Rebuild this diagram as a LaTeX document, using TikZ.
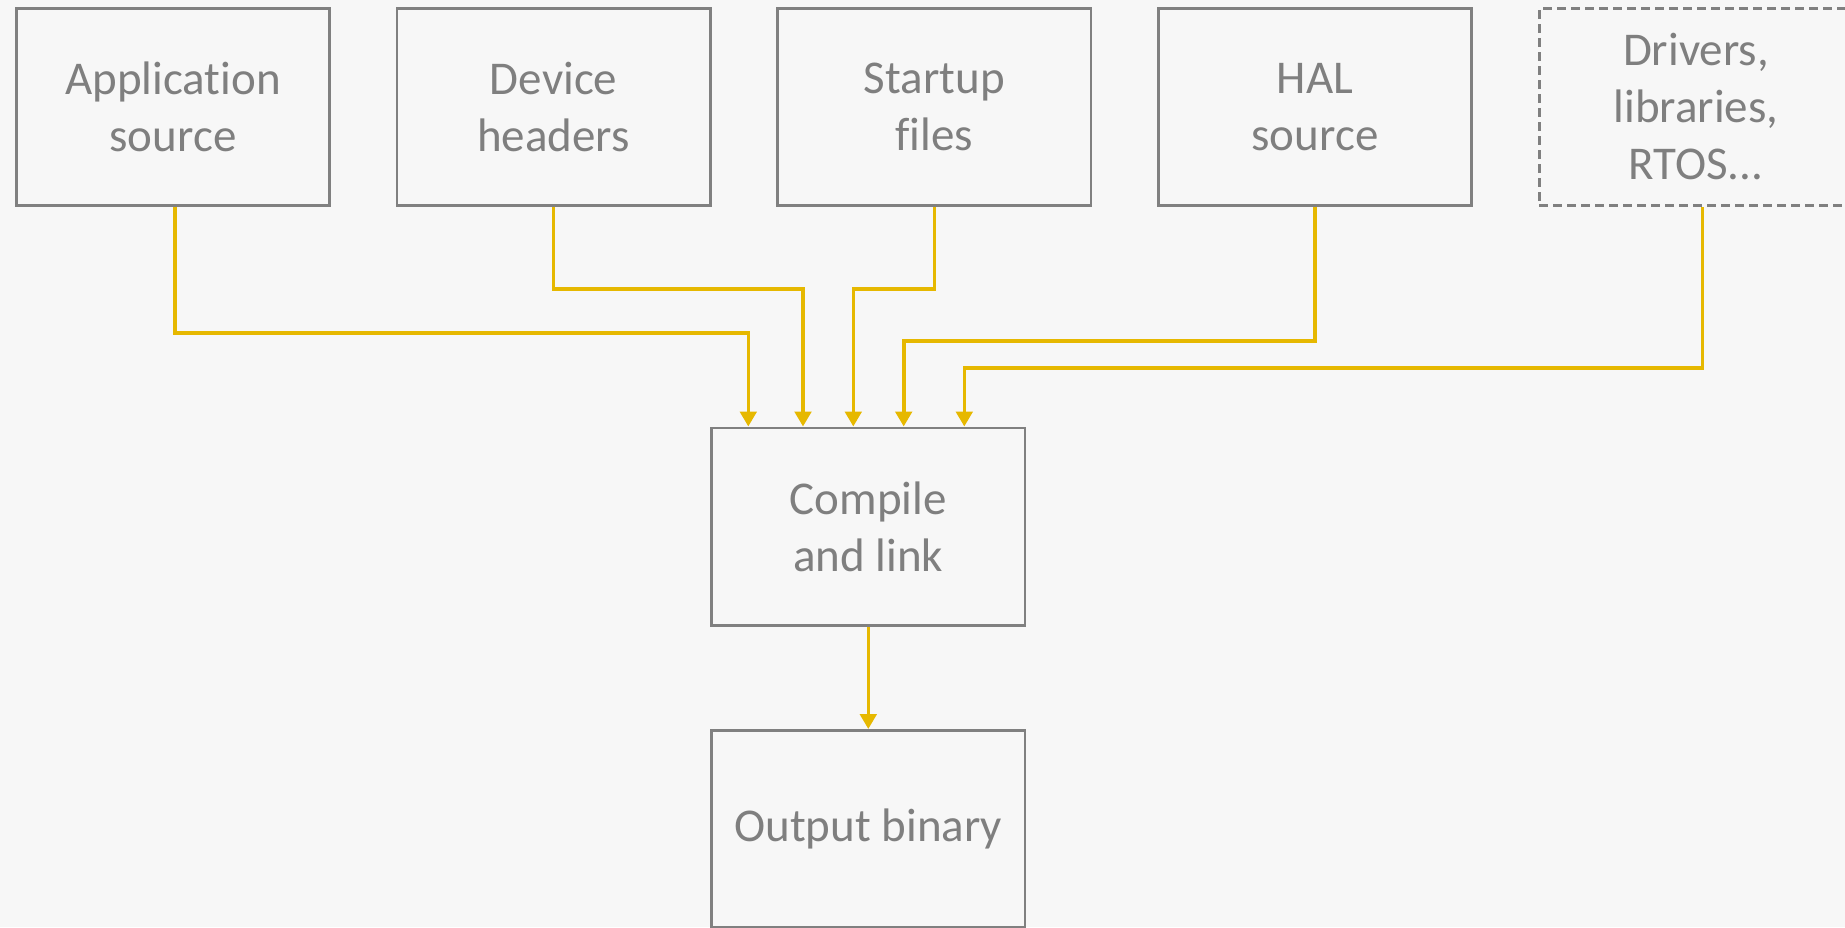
\documentclass[tikz,border=0pt]{standalone}
\usepackage{fontspec}
\setmainfont{Carlito}[Ligatures={NoCommon}]
\usetikzlibrary{arrows.meta}
\definecolor{bg}{RGB}{247,247,247}
\definecolor{boxgray}{RGB}{128,128,128}
\definecolor{txtgray}{RGB}{127,127,127}
\definecolor{arrowyellow}{RGB}{230,184,0}
\tikzset{
  blockbox/.style={draw=boxgray, line width=2.6pt, minimum width=313.4pt, minimum height=197.4pt,
    inner sep=0pt, align=center, text=txtgray, font=\fontsize{47pt}{57pt}\selectfont},
  dashedbox/.style={blockbox, dash pattern=on 9pt off 5pt},
  flow/.style={draw=arrowyellow, line width=3.6pt, line join=miter,
    -{Triangle[length=15pt,width=16.5pt]}},
}
\begin{document}
\begin{tikzpicture}[x=1pt,y=-1pt]
\fill[bg] (0,0) rectangle (1845,927);
\useasboundingbox (0,0) rectangle (1845,927);

\node[blockbox] (app) at (173,107) {Application\\source};
\node[blockbox] (dev) at (553.6,107) {Device\\headers};
\node[blockbox] (st)  at (934.3,107) {Startup\\files};
\node[blockbox] (hal) at (1315,107) {HAL\\source};
\node[dashedbox] (drv) at (1696,107) {Drivers,\\libraries,\\RTOS...};
\node[blockbox] (comp) at (868.3,526.5) {Compile\\and link};
\node[blockbox] (out) at (868.3,829) {Output binary};

\coordinate (i1) at ([xshift=-120pt]comp.north);
\coordinate (i2) at ([xshift=-65.3pt]comp.north);
\coordinate (i3) at ([xshift=-15pt]comp.north);
\coordinate (i4) at ([xshift=35.4pt]comp.north);
\coordinate (i5) at ([xshift=96pt]comp.north);

\draw[flow] ([xshift=2pt]app.south) -- ++(0,126) -| (i1);
\draw[flow] (dev.south) -- ++(0,82) -| (i2);
\draw[flow] (st.south) -- ++(0,82) -| (i3);
\draw[flow] (hal.south) -- ++(0,134) -| (i4);
\draw[flow] ([xshift=6.6pt]drv.south) -- ++(0,160.7) -| (i5);
\draw[flow] (comp.south) -- (out.north);
\end{tikzpicture}
\end{document}
